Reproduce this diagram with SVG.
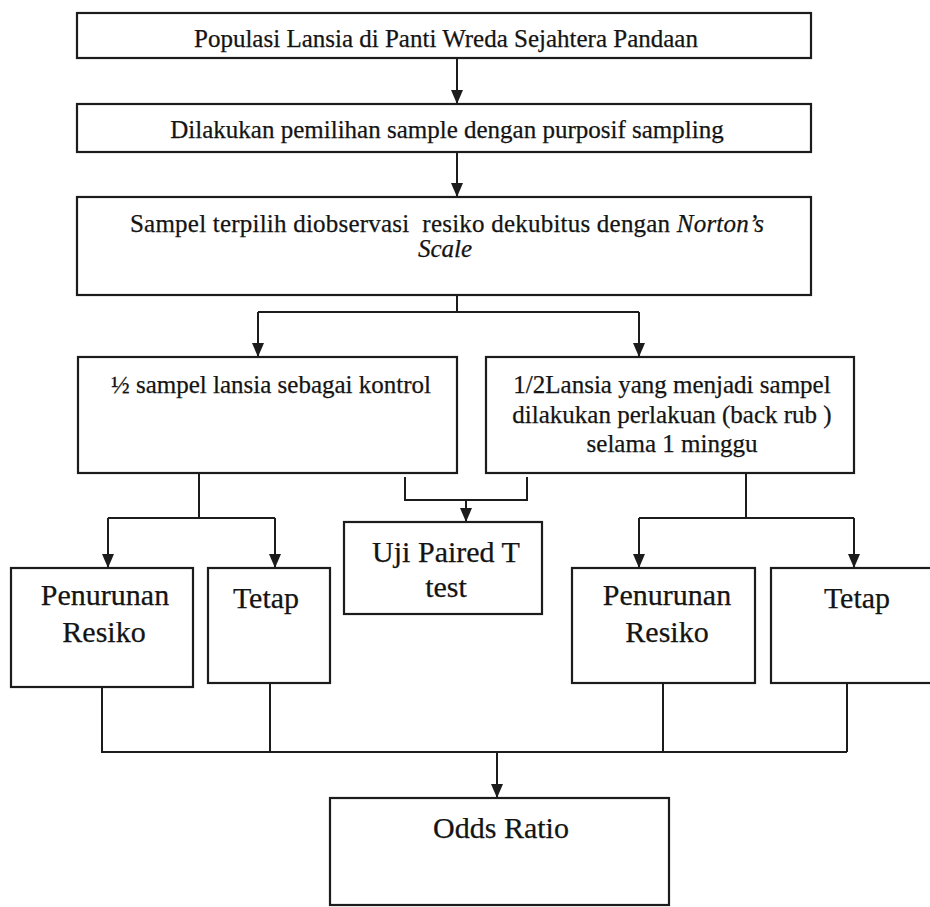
<svg xmlns="http://www.w3.org/2000/svg" width="930" height="907" viewBox="0 0 930 907">
  <defs>
    <marker id="ah" markerUnits="userSpaceOnUse" markerWidth="14" markerHeight="12" refX="14" refY="6" orient="auto">
      <path d="M0,0 L14,6 L0,12 z" fill="#1c1c1c"/>
    </marker>
    <style>
      .box { fill: #ffffff; stroke: #1c1c1c; stroke-width: 2.2; }
      .ln { fill: none; stroke: #1c1c1c; stroke-width: 2; }
      .arr { fill: none; stroke: #1c1c1c; stroke-width: 2; marker-end: url(#ah); }
      text { font-family: "Liberation Serif", "Times New Roman", serif; fill: #141414; stroke: #141414; stroke-width: 0.25; text-anchor: middle; }
      .m { font-size: 25px; }
      .l { font-size: 30px; }
    </style>
  </defs>
  <rect x="0" y="0" width="930" height="907" fill="#ffffff"/>

  <g id="connectors">
    <line class="arr" x1="457" y1="58" x2="457" y2="104"/>
    <line class="arr" x1="457" y1="152" x2="457" y2="197"/>
    <polyline class="ln" points="457,295 457,312"/>
    <polyline class="ln" points="258,312 639,312"/>
    <line class="arr" x1="258" y1="312" x2="258" y2="357"/>
    <line class="arr" x1="639" y1="312" x2="639" y2="357"/>
    <polyline class="ln" points="199,473 199,518"/>
    <polyline class="ln" points="108,518 275,518"/>
    <line class="arr" x1="108" y1="518" x2="108" y2="568"/>
    <line class="arr" x1="275" y1="518" x2="275" y2="568"/>
    <polyline class="ln" points="746,473 746,518"/>
    <polyline class="ln" points="639,518 854,518"/>
    <line class="arr" x1="639" y1="518" x2="639" y2="568"/>
    <line class="arr" x1="854" y1="518" x2="854" y2="568"/>
    <polyline class="ln" points="405,477 405,500 527,500 527,477"/>
    <line class="arr" x1="466" y1="500" x2="466" y2="522"/>
    <polyline class="ln" points="102,682 102,752 847,752"/>
    <polyline class="ln" points="270,683 270,752"/>
    <polyline class="ln" points="663,683 663,752"/>
    <polyline class="ln" points="847,683 847,752"/>
    <line class="arr" x1="497" y1="752" x2="497" y2="798"/>
  </g>

  <g id="populasi">
    <rect class="box" x="77" y="13" width="734" height="45"/>
    <text class="m" x="446" y="47">Populasi Lansia di Panti Wreda Sejahtera Pandaan</text>
  </g>
  <g id="pemilihan">
    <rect class="box" x="77" y="104" width="734" height="48"/>
    <text class="m" x="447" y="138">Dilakukan pemilihan sample dengan purposif sampling</text>
  </g>
  <g id="observasi">
    <rect class="box" x="77" y="197" width="734" height="98"/>
    <text class="m" x="447" y="232" textLength="634" lengthAdjust="spacing" xml:space="preserve">Sampel terpilih diobservasi  resiko dekubitus dengan <tspan font-style="italic">Norton’s</tspan></text>
    <text class="m" x="445" y="257" font-style="italic">Scale</text>
  </g>
  <g id="kontrol">
    <rect class="box" x="78" y="357" width="379" height="116"/>
    <text class="m" x="271" y="393">½ sampel lansia sebagai kontrol</text>
  </g>
  <g id="perlakuan">
    <rect class="box" x="486" y="357" width="368" height="116"/>
    <text class="m" x="672" y="393">1/2Lansia yang menjadi sampel</text>
    <text class="m" x="672" y="423">dilakukan perlakuan (back rub )</text>
    <text class="m" x="672" y="452">selama 1 minggu</text>
  </g>
  <g id="uji">
    <rect class="box" x="344" y="522" width="198" height="92"/>
    <text class="l" x="446" y="562">Uji Paired T</text>
    <text class="l" x="446" y="597">test</text>
  </g>
  <g id="penurunan-kontrol">
    <rect class="box" x="11" y="568" width="182" height="119"/>
    <text class="l" x="105" y="605">Penurunan</text>
    <text class="l" x="104" y="642">Resiko</text>
  </g>
  <g id="tetap-kontrol">
    <rect class="box" x="208" y="568" width="122" height="115"/>
    <text class="l" x="266" y="608">Tetap</text>
  </g>
  <g id="penurunan-perlakuan">
    <rect class="box" x="572" y="568" width="183" height="115"/>
    <text class="l" x="667" y="605">Penurunan</text>
    <text class="l" x="667" y="642">Resiko</text>
  </g>
  <g id="tetap-perlakuan">
    <rect class="box" x="771" y="568" width="170" height="115"/>
    <text class="l" x="857" y="608">Tetap</text>
  </g>
  <g id="odds">
    <rect class="box" x="330" y="798" width="339" height="107"/>
    <text class="l" x="501" y="838">Odds Ratio</text>
  </g>
</svg>
